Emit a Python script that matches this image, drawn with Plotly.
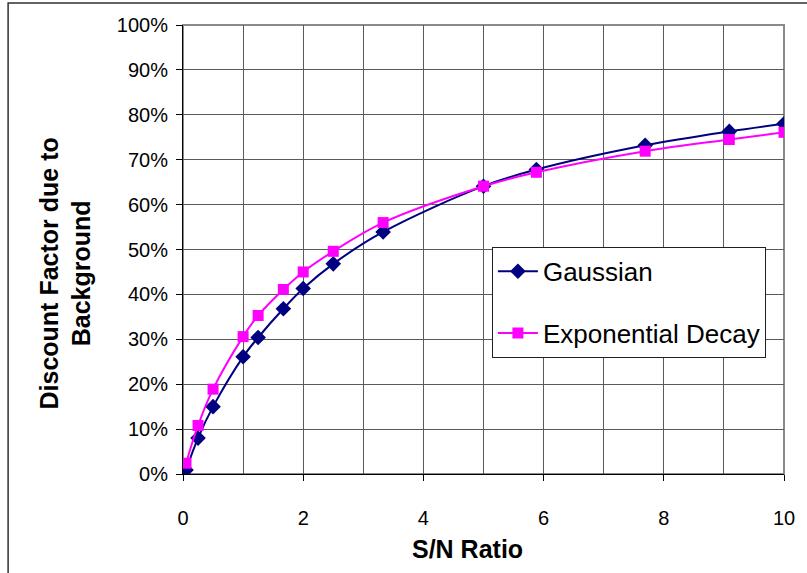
import plotly.graph_objects as go

# S/N ratio sample points
sn_ratio = [0.05, 0.25, 0.5, 1.0, 1.25, 1.67, 2.0, 2.5, 3.33, 5.0, 5.88, 7.69, 9.09, 10.0]

# Discount factor (fraction) for each background model
gaussian = [0.009, 0.080, 0.150, 0.261, 0.304, 0.368, 0.413, 0.468, 0.539, 0.641, 0.678, 0.732, 0.763, 0.780]
exp_decay = [0.024, 0.108, 0.189, 0.306, 0.353, 0.411, 0.450, 0.496, 0.560, 0.641, 0.672, 0.719, 0.745, 0.761]

y_ticks = [i / 10 for i in range(11)]
y_tick_text = [f"{i * 10}%" for i in range(11)]

FONT = "Liberation Sans, Arial, sans-serif"
GRID = "#5a5a5a"

fig = go.Figure()
fig.add_trace(go.Scatter(
    x=sn_ratio, y=gaussian, name="Gaussian", mode="lines+markers",
    line=dict(color="#000080", width=2, shape="spline", smoothing=1.0),
    marker=dict(symbol="diamond", size=12, color="#000080"),
    legendgroup="g",
))
fig.add_trace(go.Scatter(
    x=sn_ratio, y=exp_decay, name="Exponential Decay", mode="lines+markers",
    line=dict(color="#FF00FF", width=2, shape="spline", smoothing=1.0),
    marker=dict(symbol="square", size=11, color="#FF00FF"),
    legendgroup="e",
))

fig.update_layout(
    width=807, height=573,
    margin=dict(l=183, r=23, t=25, b=99),
    paper_bgcolor="white", plot_bgcolor="white",
    font=dict(family=FONT, color="black", size=20),
    showlegend=True,
    legend=dict(
        x=0.514, y=0.506, xanchor="left", yanchor="top",
        bgcolor="white", bordercolor="#202020", borderwidth=1,
        font=dict(size=26, family=FONT),
        tracegroupgap=25, itemwidth=40,
    ),
    xaxis=dict(
        range=[0, 10], dtick=2, tick0=0,
        showgrid=True, gridcolor=GRID, gridwidth=1,
        minor=dict(dtick=1, showgrid=True, gridcolor=GRID, gridwidth=1, ticks=""),
        ticks="outside", ticklen=6, tickcolor="black",
        showline=True, linecolor="black", linewidth=1,
        zeroline=False, ticklabelstandoff=20,
        tickfont=dict(size=20),
    ),
    yaxis=dict(
        range=[0, 1], tickvals=y_ticks, ticktext=y_tick_text,
        showgrid=True, gridcolor=GRID, gridwidth=1,
        ticks="outside", ticklen=6, tickcolor="black",
        showline=True, linecolor="black", linewidth=1,
        zeroline=False, ticklabelstandoff=4,
        tickfont=dict(size=20),
    ),
    shapes=[
        # gray plot-area frame
        dict(type="rect", xref="paper", yref="paper", x0=0, y0=0, x1=1, y1=1,
             line=dict(color="#8a8a8a", width=2), layer="below"),
        # outer chart border
        dict(type="rect", xref="paper", yref="paper", x0=-0.291, y0=-0.235, x1=1.045, y1=1.049,
             line=dict(color="#303030", width=1.5), layer="below"),
    ],
    annotations=[
        dict(text="<b>S/N Ratio</b>", xref="paper", yref="paper", x=0.474, y=-0.167,
             xanchor="center", yanchor="middle", showarrow=False,
             font=dict(size=25, family=FONT)),
        dict(text="<b>Discount Factor due to<br>Background</b>", xref="paper", yref="paper",
             x=-0.196, y=0.447, xanchor="center", yanchor="middle", showarrow=False,
             textangle=-90, font=dict(size=25, family=FONT)),
    ],
)

fig.write_html("out.html")
